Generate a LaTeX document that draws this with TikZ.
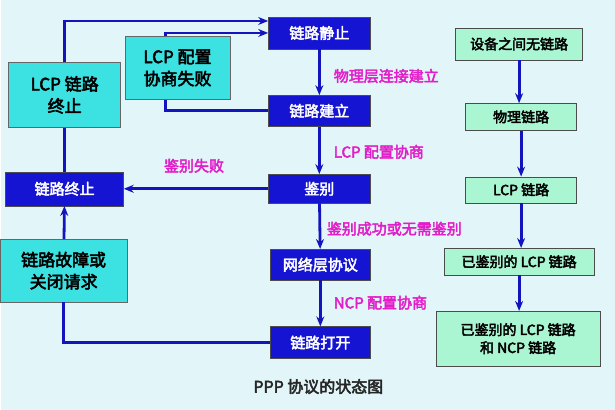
\documentclass[tikz,border=0pt]{standalone}
\usepackage{fontspec}
\setmainfont{Noto Sans CJK SC}
\newfontfamily\hb{Noto Sans CJK SC}[FakeBold=3]
\usetikzlibrary{arrows.meta}
\definecolor{bg}{RGB}{226,246,250}
\definecolor{dblue}{RGB}{20,20,210}
\definecolor{cy}{RGB}{60,225,225}
\definecolor{lg}{RGB}{170,245,210}
\definecolor{mag}{RGB}{225,30,200}
\definecolor{ln}{RGB}{20,20,190}
\begin{document}
\begin{tikzpicture}[x=1pt,y=-1pt,
 bx/.style={draw=black!70,fill=dblue,text=white,font=\hb\fontsize{15}{17}\selectfont,inner sep=0pt},
 cb/.style={draw=black!60,fill=cy,font=\hb\fontsize{17}{22}\selectfont,align=center,inner sep=0pt},
 gb/.style={draw=black!70,fill=lg,font=\hb\fontsize{14}{18}\selectfont,align=center,inner sep=0pt},
 lb/.style={text=mag,font=\hb\fontsize{15}{17}\selectfont,anchor=west},
 ar/.style={draw=ln,line width=2.8pt,-{Stealth[length=10pt,width=8pt]}},
 pl/.style={draw=ln,line width=2.8pt}]
\fill[bg] (0,0) rectangle (615,410);
\node[bx,minimum width=102,minimum height=32] (s) at (319,33) {链路静止};
\node[bx,minimum width=102,minimum height=31] (e) at (319,111) {链路建立};
\node[bx,minimum width=102,minimum height=29] (a) at (319,189) {鉴别};
\node[bx,minimum width=100,minimum height=31] (n) at (320,265) {网络层协议};
\node[bx,minimum width=100,minimum height=32] (o) at (320,343) {链路打开};
\node[bx,minimum width=118,minimum height=34] (t) at (64,189) {链路终止};
\node[cb,minimum width=112,minimum height=65] (lt) at (64,95) {LCP 链路\\终止};
\node[cb,minimum width=105,minimum height=63] (lf) at (177,68) {LCP 配置\\协商失败};
\node[cb,minimum width=127,minimum height=63] (fl) at (63,271) {链路故障或\\关闭请求};
\draw[ar] (s) -- (e);
\draw[ar] (e) -- (a);
\draw[ar] (a) -- (n);
\draw[ar] (n) -- (o);
\draw[ar] (a) -- (t);
\draw[ar] (fl) -- (t);
\draw[pl] (t) -- (lt);
\draw[ar] (lt.north) |- (s.west |- 0,21);
\draw[ar] (lf.north -| 165,0) |- (s.west |- 0,33);
\draw[pl] (e.west) -| (lf.south -| 165,0);
\draw[pl] (o.west) -| (fl.south);
\node[lb] (l1) at (330,76) {物理层连接建立};
\node[lb] (l2) at (330,152) {LCP 配置协商};
\node[lb] (l3) at (323,229) {鉴别成功或无需鉴别};
\node[lb] (l4) at (330,303) {NCP 配置协商};
\node[lb] (l5) at (160,166) {鉴别失败};
\node[gb,minimum width=127,minimum height=32] (r1) at (519,44) {设备之间无链路};
\node[gb,minimum width=111,minimum height=27] (r2) at (521,117) {物理链路};
\node[gb,minimum width=111,minimum height=26] (r3) at (521,190) {LCP 链路};
\node[gb,minimum width=151,minimum height=27] (r4) at (519,262) {已鉴别的 LCP 链路};
\node[gb,minimum width=164,minimum height=55] (r5) at (518,339) {已鉴别的 LCP 链路\\和 NCP 链路};
\draw[ar] (r1) -- (r1 |- r2.north);
\draw[ar] (r2) -- (r2 |- r3.north);
\draw[ar] (r3) -- (r3 |- r4.north);
\draw[ar] (r4) -- (r4 |- r5.north);
\node[font=\hb\fontsize{16}{19}\selectfont,text=black!85] (ti) at (318,387) {PPP 协议的状态图};
\end{tikzpicture}
\end{document}
